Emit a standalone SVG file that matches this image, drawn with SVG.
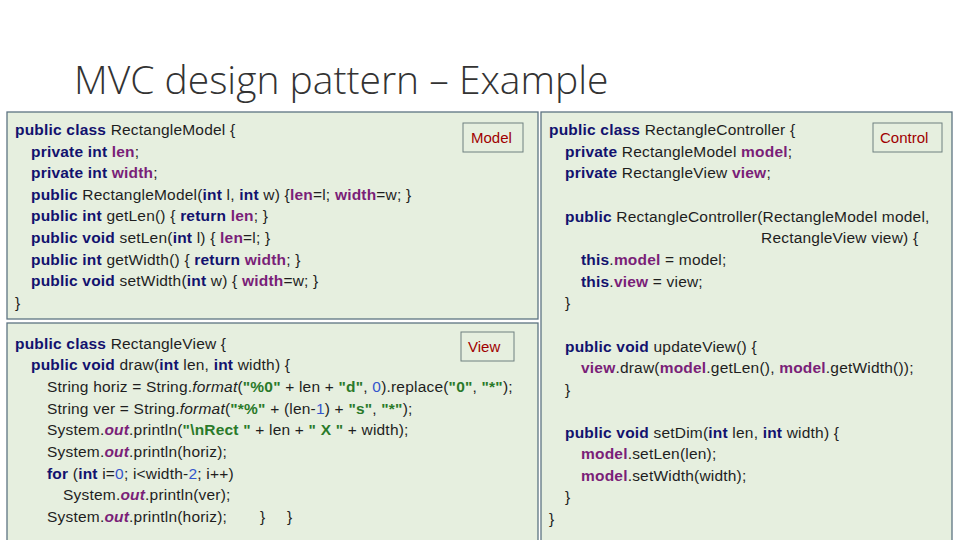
<svg xmlns="http://www.w3.org/2000/svg" width="960" height="540" viewBox="0 0 960 540">
<style>
text{font-family:"Liberation Sans","Noto Sans",sans-serif;font-size:15.5px;letter-spacing:0.2px;fill:#1e1e1e}
.t{font-size:39px;letter-spacing:0;fill:#333;font-family:"Open Sans","Liberation Sans",sans-serif;font-weight:300}
.k{fill:#12126e;font-weight:bold}
.f{fill:#7a1f78;font-weight:bold}
.s{fill:#2a7a2a;font-weight:bold}
.n{fill:#3355cc}
.i{font-style:italic}
.o{fill:#7a1f78;font-weight:bold;font-style:italic}
.box{fill:#e6efdf;stroke:#5d7382;stroke-width:1.3}
.lab{fill:#e6efdf;stroke:#6f8080;stroke-width:1}
.lt{fill:#a00000;font-size:15px;letter-spacing:0}
</style>
<rect width="960" height="540" fill="#fff"/>
<text class="t" x="74" y="94">MVC design pattern – Example</text>
<g id="model">
<rect class="box" x="7" y="112" width="531" height="207"/>
<rect class="lab" x="463" y="123" width="60" height="29"/>
<text class="lt" x="471" y="143">Model</text>
<text x="15" y="135"><tspan class="k">public class</tspan> RectangleModel {</text>
<text x="31" y="157"><tspan class="k">private int</tspan> <tspan class="f">len</tspan>;</text>
<text x="31" y="178"><tspan class="k">private int</tspan> <tspan class="f">width</tspan>;</text>
<text x="31" y="200"><tspan class="k">public</tspan> RectangleModel(<tspan class="k">int</tspan> l, <tspan class="k">int</tspan> w) {<tspan class="f">len</tspan>=l; <tspan class="f">width</tspan>=w; }</text>
<text x="31" y="221"><tspan class="k">public int</tspan> getLen() { <tspan class="k">return</tspan> <tspan class="f">len</tspan>; }</text>
<text x="31" y="243"><tspan class="k">public void</tspan> setLen(<tspan class="k">int</tspan> l) { <tspan class="f">len</tspan>=l; }</text>
<text x="31" y="265"><tspan class="k">public int</tspan> getWidth() { <tspan class="k">return</tspan> <tspan class="f">width</tspan>; }</text>
<text x="31" y="286"><tspan class="k">public void</tspan> setWidth(<tspan class="k">int</tspan> w) { <tspan class="f">width</tspan>=w; }</text>
<text x="15" y="308">}</text>
</g>
<g id="view">
<rect class="box" x="7" y="323" width="531" height="222"/>
<rect class="lab" x="461" y="332" width="53" height="29"/>
<text class="lt" x="468" y="352">View</text>
<text x="15" y="349"><tspan class="k">public class</tspan> RectangleView {</text>
<text x="31" y="370"><tspan class="k">public void</tspan> draw(<tspan class="k">int</tspan> len, <tspan class="k">int</tspan> width) {</text>
<text x="47" y="392">String horiz = String.<tspan class="i">format</tspan>(<tspan class="s">"%0"</tspan> + len + <tspan class="s">"d"</tspan>, <tspan class="n">0</tspan>).replace(<tspan class="s">"0"</tspan>, <tspan class="s">"*"</tspan>);</text>
<text x="47" y="414">String ver = String.<tspan class="i">format</tspan>(<tspan class="s">"*%"</tspan> + (len-<tspan class="n">1</tspan>) + <tspan class="s">"s"</tspan>, <tspan class="s">"*"</tspan>);</text>
<text x="47" y="435">System.<tspan class="o">out</tspan>.println(<tspan class="s">"\nRect "</tspan> + len + <tspan class="s">" X "</tspan> + width);</text>
<text x="47" y="457">System.<tspan class="o">out</tspan>.println(horiz);</text>
<text x="47" y="479"><tspan class="k">for</tspan> (<tspan class="k">int</tspan> i=<tspan class="n">0</tspan>; i&lt;width-<tspan class="n">2</tspan>; i++)</text>
<text x="63" y="500">System.<tspan class="o">out</tspan>.println(ver);</text>
<text x="47" y="522">System.<tspan class="o">out</tspan>.println(horiz);</text>
<text x="260" y="522">}</text>
<text x="287" y="522">}</text>
</g>
<g id="controller">
<rect class="box" x="541" y="112" width="411" height="433"/>
<rect class="lab" x="873" y="123" width="69" height="29"/>
<text class="lt" x="880" y="143">Control</text>
<text x="549" y="135"><tspan class="k">public class</tspan> RectangleController {</text>
<text x="565" y="157"><tspan class="k">private</tspan> RectangleModel <tspan class="f">model</tspan>;</text>
<text x="565" y="178"><tspan class="k">private</tspan> RectangleView <tspan class="f">view</tspan>;</text>
<text x="565" y="222"><tspan class="k">public</tspan> RectangleController(RectangleModel model,</text>
<text x="761" y="243">RectangleView view) {</text>
<text x="581" y="265"><tspan class="k">this</tspan>.<tspan class="f">model</tspan> = model;</text>
<text x="581" y="287"><tspan class="k">this</tspan>.<tspan class="f">view</tspan> = view;</text>
<text x="565" y="308">}</text>
<text x="565" y="352"><tspan class="k">public void</tspan> updateView() {</text>
<text x="581" y="373"><tspan class="f">view</tspan>.draw(<tspan class="f">model</tspan>.getLen(), <tspan class="f">model</tspan>.getWidth());</text>
<text x="565" y="395">}</text>
<text x="565" y="438"><tspan class="k">public void</tspan> setDim(<tspan class="k">int</tspan> len, <tspan class="k">int</tspan> width) {</text>
<text x="581" y="459"><tspan class="f">model</tspan>.setLen(len);</text>
<text x="581" y="481"><tspan class="f">model</tspan>.setWidth(width);</text>
<text x="565" y="502">}</text>
<text x="549" y="524">}</text>
</g>
<g id="connectors"/>
</svg>
